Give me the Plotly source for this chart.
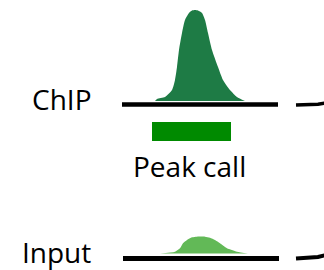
import plotly.graph_objects as go

# ChIP signal profile (position, signal height above baseline)
chip_pos = [155, 157, 165, 172, 175, 177, 179, 182, 185, 189, 192, 195, 198, 202, 205, 208, 212, 218, 223, 230, 237, 245]
chip_signal = [0, 2, 4, 11, 21, 34, 51, 68, 81, 88, 90.5, 91, 90.5, 88, 81, 68, 51, 34, 21, 11, 4, 0]

# Input signal profile
input_pos = [160, 175, 180, 183, 187, 192, 197, 205, 210, 215, 220, 227, 237, 248]
input_signal = [0, 1.8, 5.2, 10.2, 13.5, 16.2, 16.8, 16.8, 15.8, 13.5, 10.2, 5.2, 1.8, 0]

# Peak call interval
peak_call = [152, 231]

labels = ["ChIP", "Peak call", "Input"]

W, H = 324, 270
chip_base = 101
input_base = 253.5
chip_line_y = 104.5
input_line_y = 258.5

fig = go.Figure()

# ChIP peak
fig.add_trace(go.Scatter(
    x=chip_pos, y=[chip_base - s for s in chip_signal],
    mode="lines", line=dict(color="#1E7B45", width=0, shape="spline", smoothing=0.6),
    fill="toself", fillcolor="#1E7B45", hoverinfo="skip", showlegend=False))

# Input bump
fig.add_trace(go.Scatter(
    x=input_pos, y=[input_base - s for s in input_signal],
    mode="lines", line=dict(color="#62B957", width=0, shape="spline", smoothing=0.6),
    fill="toself", fillcolor="#62B957", hoverinfo="skip", showlegend=False))

# baselines
fig.add_trace(go.Scatter(x=[122, 278], y=[chip_line_y, chip_line_y], mode="lines",
                         line=dict(color="black", width=4.5), hoverinfo="skip", showlegend=False))
fig.add_trace(go.Scatter(x=[123, 279], y=[input_line_y, input_line_y], mode="lines",
                         line=dict(color="black", width=5), hoverinfo="skip", showlegend=False))

# right edge connectors
fig.add_trace(go.Scatter(x=[296, 310, 318, 326], y=[105, 104.8, 104.2, 103], mode="lines",
                         line=dict(color="black", width=3.5), hoverinfo="skip", showlegend=False))
fig.add_trace(go.Scatter(x=[296, 310, 318, 326], y=[258.5, 258.0, 257.0, 255.0], mode="lines",
                         line=dict(color="black", width=4), hoverinfo="skip", showlegend=False))

# peak call bar
fig.add_shape(type="rect", x0=peak_call[0], x1=peak_call[1], y0=122, y1=141,
              fillcolor="#008A00", line=dict(width=0), layer="above")

font = dict(family="Open Sans", size=28, color="black")
fig.add_annotation(x=61, y=99, text=labels[0], showarrow=False, font=font, xanchor="center", yanchor="middle")
fig.add_annotation(x=189, y=166, text=labels[1], showarrow=False, font=font, xanchor="center", yanchor="middle")
fig.add_annotation(x=56, y=252, text=labels[2], showarrow=False, font=font, xanchor="center", yanchor="middle")

fig.update_layout(
    width=W, height=H, margin=dict(l=0, r=0, t=0, b=0),
    paper_bgcolor="white", plot_bgcolor="white",
    xaxis=dict(range=[0, W], visible=False, fixedrange=True),
    yaxis=dict(range=[H, 0], visible=False, fixedrange=True),
)

fig.write_html(
    "out.html",
    config={"displayModeBar": False, "staticPlot": True},
    post_script="document.body.style.margin='0';document.body.style.overflow='hidden';",
)
